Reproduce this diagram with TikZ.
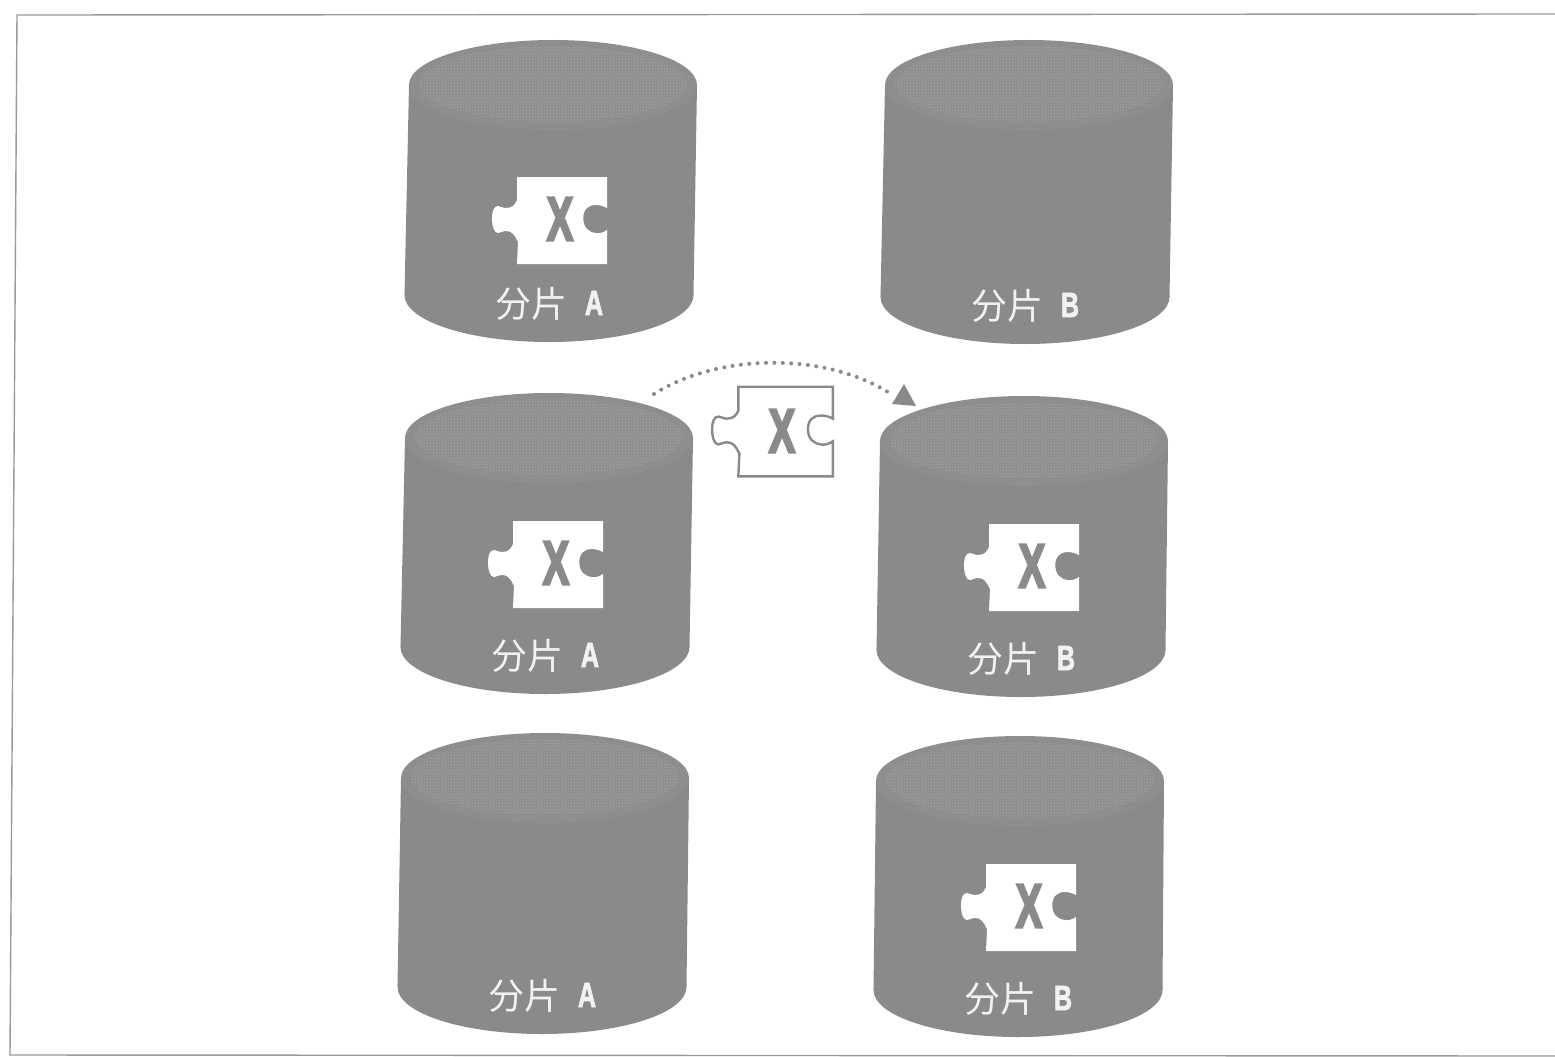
\documentclass[tikz,border=0pt]{standalone}
\usepackage{fontspec}
\setmainfont{Liberation Sans}
\newfontfamily\cjk{Noto Sans CJK SC}
\newfontfamily\heavy[FakeBold=2.5]{Liberation Sans Bold}
\newfontfamily\heavier[FakeBold=4.5]{Liberation Sans Bold}
\usetikzlibrary{arrows.meta,patterns}
\definecolor{body}{HTML}{8A8A8A}
\definecolor{topc}{HTML}{8E8E8E}
\definecolor{speck}{HTML}{ABABAB}
\definecolor{framec}{HTML}{9A9A9A}
\definecolor{txtc}{HTML}{F2F2F2}
\tikzset{
  x=1pt,y=-1pt,
  cylbody/.style={fill=body,draw=none},
  cyltop/.style={fill=topc,draw=none},
  cylspeck/.style={pattern=crosshatch dots,pattern color=speck,draw=none},
  piecefill/.style={fill=white,draw=none},
  pieceline/.style={fill=white,draw=body,line width=2.4pt},
  xmark/.style={inner sep=0pt,text=body,font=\heavier\fontsize{62}{62}\selectfont,xscale=.64,transform shape},
  lblcjk/.style={inner sep=0pt,text=txtc,font=\cjk\fontsize{36}{36}\selectfont},
  lbllat/.style={inner sep=0pt,text=txtc,font=\heavy\fontsize{35}{35}\selectfont,xscale=.72,transform shape},
  frameline/.style={draw=framec,line width=1.4pt},
  moveline/.style={draw=body,line width=4pt,line cap=round,dash pattern=on 0pt off 8.4pt},
  movetip/.style={fill=body,draw=none}
}
% #1 name, #2,#3 top centre, #4,#5 bottom centre, #6 label letter
\newcommand{\cyl}[6]{%
  \fill[cylbody] (#4,#5) ellipse[x radius=144.5,y radius=47];
  \fill[cylbody] (#2-144,#3) -- (#4-144.5,#5) -- (#4+144.5,#5) -- (#2+144,#3) -- cycle;
  \fill[cyltop] (#2,#3) ellipse[x radius=144,y radius=45];
  \path[cylspeck] (#2,#3-1) ellipse[x radius=134,y radius=38];
  \coordinate (#1) at (#2,#3);
  \node[lblcjk] (#1cjk) at (#4-18,#5+9) {分片};
  \node[lbllat] (#1let) at (#4+45,#5+8) {#6};
}
\newcommand{\piecepath}{
  (-33,-43) -- (57,-43) -- (57,-12)
  .. controls (50,-16) and (41,-16) .. (37,-12)
  .. controls (32,-8) and (32,4) .. (37,9)
  .. controls (42,14) and (50,15) .. (57,10)
  -- (57,44) -- (-33,44) -- (-32,22)
  .. controls (-36,14) and (-38,11) .. (-44,11)
  .. controls (-48,11) and (-49,13) .. (-52,13)
  .. controls (-56,13) and (-58,6) .. (-58,-2)
  .. controls (-58,-9) and (-56,-14) .. (-52,-14)
  .. controls (-49,-14) and (-48,-12) .. (-44,-12)
  .. controls (-38,-12) and (-35,-15) .. (-33,-20)
  -- cycle
}
% #1 name, #2,#3 centre
\newcommand{\piece}[3]{%
  \fill[piecefill,shift={(#2,#3)}] \piecepath;
  \node[xmark] (#1) at (#2+10,#3-1) {X};
}
\begin{document}
\begin{tikzpicture}
\useasboundingbox (0,0) rectangle (1555,1057);
\fill[white] (0,0) rectangle (1555,1057);
\draw[frameline] (1555,14) -- (17,15) -- (10,1055) -- (1555,1056);
\cyl{aone}{553}{85}{549}{295}{A}
\cyl{bone}{1029}{85}{1025}{297}{B}
\cyl{atwo}{549}{438}{545}{647}{A}
\cyl{btwo}{1024}{441}{1021}{650}{B}
\cyl{athree}{545}{778}{542}{987}{A}
\cyl{bthree}{1020}{781}{1018}{990}{B}
\piece{pa}{550}{220}
\piece{pb}{546}{564}
\piece{pc}{1022}{567}
\piece{pd}{1019}{907}
% moving piece
\begin{scope}[shift={(773,431)},xscale=1.05,yscale=1.03]
\path[pieceline] \piecepath;
\end{scope}
\node[xmark] (pm) at (782,431) {X};
% arrow
\coordinate (from) at (654,394);
\coordinate (to) at (894,396);
\draw[moveline] (from) .. controls (720,352) and (830,352) .. (to);
\fill[movetip] (904,384) -- (916,406) -- (892,404) -- cycle;
\end{tikzpicture}
\end{document}
